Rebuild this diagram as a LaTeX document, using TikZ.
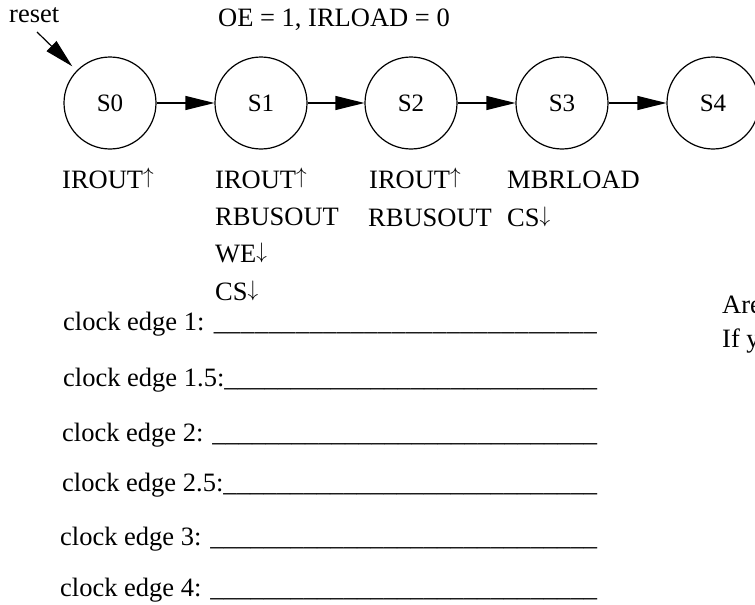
\documentclass[tikz,border=0pt]{standalone}
\usepackage{fontspec}
\setmainfont{Liberation Serif}
\usetikzlibrary{arrows.meta}
\newcommand\upar{\raisebox{0.17em}{\scalebox{0.85}[0.9]{$\uparrow$}}}
\newcommand\dnar{\raisebox{0.12em}{\scalebox{0.85}[0.9]{$\downarrow$}}}
\newcommand\blank{\xleaders\hbox{\_}\hfill}
\begin{document}
\begin{tikzpicture}[x=1pt,y=-1pt,
  state/.style={circle,draw,line width=1.2pt,minimum size=92pt,inner sep=0pt,font=\fontsize{25}{30}\selectfont},
  arr/.style={line width=1.2pt,-{Triangle[length=29pt,width=14pt]}},
  lbl/.style={anchor=base west,inner sep=0pt,font=\fontsize{26.5}{31}\selectfont},
  row/.style={lbl}]
\useasboundingbox (0,0) rectangle (755,605);
\clip (0,0) rectangle (755,605);
% states
\node[state] (S0) at (110,103) {S0};
\node[state] (S1) at (261,103) {S1};
\node[state] (S2) at (411,103) {S2};
\node[state] (S3) at (562,103) {S3};
\node[state] (S4) at (713,103) {S4};
\draw[arr] (S0) -- (S1);
\draw[arr] (S1) -- (S2);
\draw[arr] (S2) -- (S3);
\draw[arr] (S3) -- (S4);
% reset
\node[lbl] (reset) at (9,23) {reset};
\coordinate (rs) at (37,32);
\draw[arr,shorten >=6pt] (rs) -- (S0);
\node[lbl] (oe) at (218,27) {OE = 1, IRLOAD = 0};
% outputs
\node[lbl] (a0) at (62,188) {IROUT\upar};
\node[lbl] (a1) at (215,188) {IROUT\upar};
\node[lbl] (b1) at (215,225) {RBUSOUT};
\node[lbl] (c1) at (215,262) {WE\dnar};
\node[lbl] (d1) at (215,300) {CS\dnar};
\node[lbl] (a2) at (369,188) {IROUT\upar};
\node[lbl] (b2) at (368,226) {RBUSOUT};
\node[lbl] (a3) at (507,188) {MBRLOAD};
\node[lbl] (b3) at (507,226) {CS\dnar};
% right side text
\node[lbl] (are) at (722,313) {Are};
\node[lbl] (ify) at (722,347) {If y};
% clock edges
\node[row] (e1) at (63,330) {\makebox[534pt][l]{clock edge 1: \blank}};
\node[row] (e15) at (63,386) {\makebox[534pt][l]{clock edge 1.5:\blank}};
\node[row] (e2) at (62,441) {\makebox[535pt][l]{clock edge 2: \blank}};
\node[row] (e25) at (62,491) {\makebox[535pt][l]{clock edge 2.5:\blank}};
\node[row] (e3) at (60,545) {\makebox[537pt][l]{clock edge 3: \blank}};
\node[row] (e4) at (60,596) {\makebox[537pt][l]{clock edge 4: \blank}};
\end{tikzpicture}
\end{document}
